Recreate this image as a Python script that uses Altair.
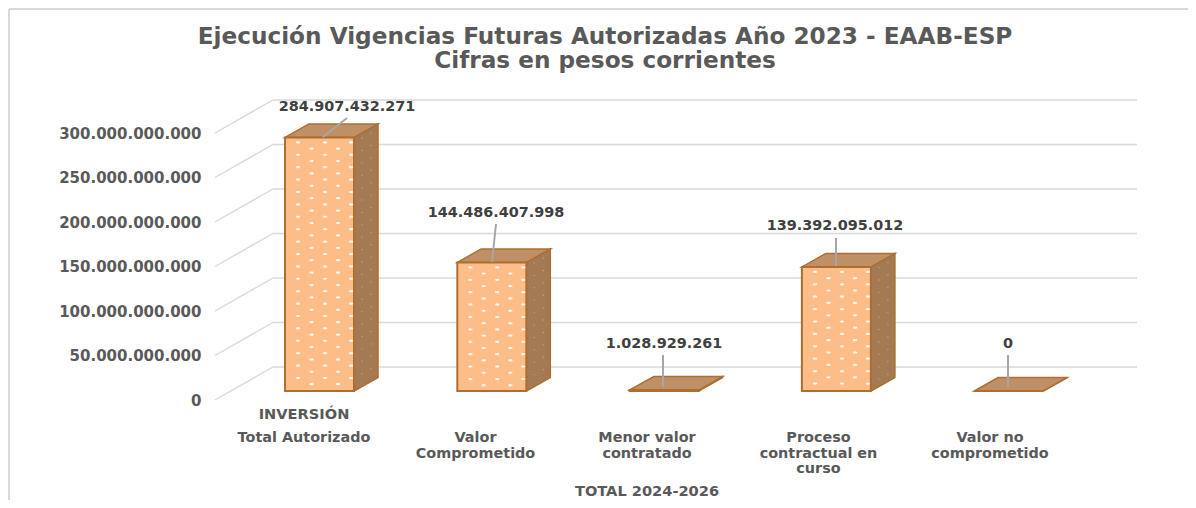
import altair as alt
import pandas as pd

categories = ["Total Autorizado", "Valor Comprometido", "Menor valor contratado", "Proceso contractual en curso", "Valor no comprometido"]
values = [284907432271, 144486407998, 1028929261, 139392095012, 0]
ticks = [0, 50e9, 100e9, 150e9, 200e9, 250e9, 300e9]
title_lines = ["Ejecución Vigencias Futuras Autorizadas Año 2023 - EAAB-ESP", "Cifras en pesos corrientes"]
cat_lines = [["Total Autorizado"], ["Valor", "Comprometido"], ["Menor valor", "contratado"], ["Proceso", "contractual en", "curso"], ["Valor no", "comprometido"]]

# layout: pixel geometry turned into scale units
PX_X = 172.3
PX_Y = 0.89 / 1e9
W, H = 1180, 410
TOP = 90
def ux(px):
    return (px - 319.5) / PX_X
def dux(px):
    return px / PX_X
def uy(py):
    return (400 - py) / PX_Y
def duy(px):
    return px / PX_Y

xdom = [ux(8), ux(8 + W)]
ydom = [uy(TOP + H), uy(TOP)]
X = alt.Scale(domain=xdom, nice=False, zero=False)
Y = alt.Scale(domain=ydom, nice=False, zero=False)
Y_AXIS = alt.Axis(
    values=ticks, domain=False, ticks=False, grid=False, offset=-193, title=None,
    labelExpr="replace(format(datum.value, ',.0f'), regexp(',', 'g'), '.')",
    labelFont="DejaVu Sans", labelFontWeight="bold", labelFontSize=15, labelColor="#595959",
    labelPadding=0, labelBaseline="middle")
xe = lambda f="x", **k: alt.X(f, type="quantitative", scale=X, axis=None, **k)
ye = lambda f="y", **k: alt.Y(f, type="quantitative", scale=Y, axis=Y_AXIS, **k)

base = duy(9)
wall = duy(33)
hw = dux(34.5)
dx = dux(24)
dy = duy(13.5)

# frame
frame = alt.Chart(pd.DataFrame({
    "x": [ux(9), ux(9)], "x2": [ux(9), ux(1188)], "y": [uy(9), uy(9)], "y2": [uy(500), uy(9)]
})).mark_rule(color="#D9D9D9", strokeWidth=2).encode(x=xe(), x2="x2:Q", y=ye(), y2="y2:Q")

# walls
grid_rows = [{"x": ux(273), "x2": ux(1137), "y": t + wall} for t in ticks]
side_rows = []
for i, t in enumerate(ticks):
    side_rows += [{"x": ux(215), "y": t, "g": i}, {"x": ux(273), "y": t + wall, "g": i}]
grid = alt.Chart(pd.DataFrame(grid_rows)).mark_rule(color="#D9D9D9", strokeWidth=1.4).encode(
    x=xe(), x2="x2:Q", y=ye())
sides = alt.Chart(pd.DataFrame(side_rows)).mark_line(color="#D9D9D9", strokeWidth=1.4).encode(
    x=xe(), y=ye(), detail="g:N")

# 3D bars
df = pd.DataFrame({"i": range(5), "v": values})
df["x0"] = df.i - hw
df["x1"] = df.i + hw
df["y0"] = base
df["y1"] = df.v + base
front = alt.Chart(df).mark_rect(fill="#FDBD88", stroke="#AE6E31", strokeWidth=2).encode(
    x=xe("x0"), x2="x1:Q", y=ye("y0"), y2="y1:Q")

side_data = []
top_data = []
for i, v in enumerate(values):
    side_data += [
        {"b": i, "x": i + hw, "y": base, "y2": v + base},
        {"b": i, "x": i + hw + dx, "y": base + dy, "y2": v + base + dy},
    ]
    top_data += [
        {"b": i, "y": v + base, "x": i - hw, "x2": i + hw},
        {"b": i, "y": v + base + dy, "x": i - hw + dx, "x2": i + hw + dx},
    ]
side_layer = alt.Chart(pd.DataFrame(side_data)).mark_area(
    color="#A47A55", stroke="#AE6E31", strokeWidth=1.5, orient="vertical"
).encode(x=xe(), y=ye(), y2="y2:Q", detail="b:N")
top_layer = alt.Chart(pd.DataFrame(top_data)).mark_area(
    color="#BF9066", stroke="#AE6E31", strokeWidth=1.5, orient="horizontal"
).encode(y=ye(), x=xe(), x2="x2:Q", detail="b:N")

# white dot texture
dots = []
side_dots = []
for i, v in enumerate(values):
    h = v * PX_Y
    r = 0
    while 5 + r * 6.2 < h - 2:
        py = 5 + r * 6.2
        for px in ([13, 40, 66] if r % 2 == 0 else [26.5, 53]):
            dots.append({"x": i - hw + dux(px), "y": v + base - duy(py)})
        if r % 2 == 0:
            for c in (8, 17):
                side_dots.append({"x": i + hw + dux(c), "y": v + base - duy(py) + duy(c * 0.55)})
        r += 1
ellipse = "M-1,0A1,0.5,0,1,1,1,0A1,0.5,0,1,1,-1,0"
dot_layer = alt.Chart(pd.DataFrame(dots)).mark_point(
    filled=True, color="#FFFFFF", size=20, opacity=0.9, shape=ellipse
).encode(x=xe(), y=ye())
side_dot_layer = alt.Chart(pd.DataFrame(side_dots)).mark_point(
    filled=True, color="#FFFFFF", size=2, opacity=0.3
).encode(x=xe(), y=ye())

# leader lines and value labels
label_x = [347, 496, 664, 835, 1008]
label_y = [107, 213, 344, 226, 344]
lead_from = [323, 492, 663, 836, 1008]
lead_to_x = [347, 496, 663, 836, 1008]
lead_to_y = [118, 224, 355, 238, 355]
lead_base = [137, 262, 387, 266, 387]
lab = pd.DataFrame({
    "x": [ux(p) for p in label_x], "y": [uy(p) for p in label_y],
    "t": [f"{v:,}".replace(",", ".") for v in values],
    "lx": [ux(p) for p in lead_from], "ly": [uy(p) for p in lead_base],
    "lx2": [ux(p) for p in lead_to_x], "ly2": [uy(p) for p in lead_to_y],
})
leaders = alt.Chart(lab).mark_rule(color="#A6A6A6", strokeWidth=2).encode(
    x=xe("lx"), x2="lx2:Q", y=ye("ly"), y2="ly2:Q")
value_text = alt.Chart(lab).mark_text(
    font="DejaVu Sans", fontWeight="bold", fontSize=14.4, color="#404040"
).encode(x=xe(), y=ye(), text="t:N")

cat_text_rows = []
for i, lines in enumerate(cat_lines):
    cat_text_rows.append({"x": ux(304 + i * 171.5), "y": uy(431), "t": lines})
cat_text = alt.Chart(alt.Data(values=cat_text_rows)).mark_text(
    font="DejaVu Sans", fontWeight="bold", fontSize=14.4, color="#595959",
    baseline="top", lineHeight=15.5
).encode(x=xe("x"), y=ye("y"), text=alt.Text("t:N"))
group_text = alt.Chart(pd.DataFrame({
    "x": [ux(304), ux(647)], "y": [uy(415), uy(492)], "t": ["INVERSIÓN", "TOTAL 2024-2026"]
})).mark_text(font="DejaVu Sans", fontWeight="bold", fontSize=14.6, color="#595959").encode(
    x=xe(), y=ye(), text="t:N")

chart = alt.layer(
    frame, grid, sides, side_layer, top_layer, front, side_dot_layer, dot_layer, leaders, value_text,
    cat_text, group_text
).resolve_scale(x="shared", y="shared").properties(
    width=W, height=H,
    padding={"left": 0, "right": 0, "top": TOP - 8, "bottom": 0},
    autosize=alt.AutoSizeParams(type="none"),
    title=alt.TitleParams(
        text=title_lines, anchor="middle", dx=7, offset=-65,
        font="DejaVu Sans", fontWeight="bold", fontSize=23.2, color="#595959", lineHeight=24),
).configure_view(stroke=None)

chart.save("out.html", embed_options={"renderer": "svg", "actions": False})
